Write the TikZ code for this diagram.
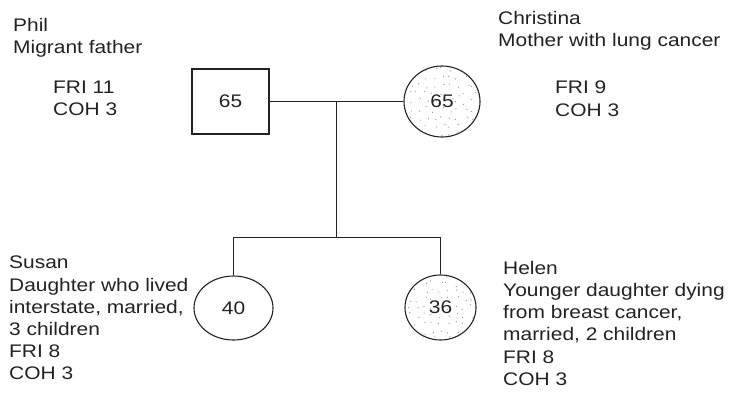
\documentclass[tikz,border=0pt]{standalone}
\usepackage{fontspec}
\setmainfont{Liberation Sans}[FakeStretch=1.15]
\usetikzlibrary{shapes.geometric,calc}
\definecolor{ink}{HTML}{222222}
\tikzset{
  member/.style={draw=ink, line width=1.1pt, text=ink, inner sep=0pt},
  male/.style={member, rectangle, minimum width=77pt, minimum height=65pt},
  female/.style={member, ellipse},
  note/.style={anchor=north west, align=left, inner sep=0pt, text=ink,
    execute at begin node={\rule{0pt}{14pt}}},
  link/.style={draw=ink, line width=1.1pt},
  stipple/.style={fill=black!45}
}
% jittered grid of small dots, clipped to an ellipse around a point
\newcommand{\stippledots}[3]{%
  \begin{scope}
    \clip (#1) ellipse ({#2} and {#3});
    \foreach \dx in {-40,-32,...,40}{
      \foreach \dy in {-40,-32,...,40}{
        \fill[stipple] ($(#1)+(\dx+rand*3,\dy+rand*3)$) circle (0.6pt);
      }
    }
  \end{scope}}
\begin{document}
\begin{tikzpicture}[x=1pt,y=-1pt,font=\fontsize{18.2}{22.2}\selectfont]
\useasboundingbox (0,0) rectangle (733,396);
\pgfmathsetseed{11}

% centres of the four members
\coordinate (philpos) at (230.5,101.5);
\coordinate (christinapos) at (442,101.5);
\coordinate (susanpos) at (233.5,308);
\coordinate (helenpos) at (440.5,307.5);

% stippled fill for the affected members
\stippledots{christinapos}{37}{34.5}
\stippledots{helenpos}{34.5}{31.5}

% parents
\node[male] (phil) at (philpos) {65};
\node[female, minimum width=76pt, minimum height=71pt] (christina) at (christinapos) {65};
% daughters
\node[female, minimum width=79pt, minimum height=64pt] (susan) at (susanpos) {40};
\node[female, minimum width=71pt, minimum height=65pt] (helen) at (helenpos) {36};

% marriage and descent lines
\coordinate (marriage) at ($(phil.east)!0.5!(christina.west)$);
\coordinate (sibship) at ($(marriage)+(0,136)$);
\draw[link] (phil.east) -- (christina.west);
\draw[link] (marriage) -- (sibship);
\draw[link] (susan.north) |- (sibship) -| (helen.north);

% annotations (anchored at the top of the first line)
\node[note] (philname) at (13,18) {Phil\\Migrant father};
\node[note] (philscore) at (53,81) {FRI 11\\COH 3};
\node[note] (chrisname) at (498,11) {Christina\\Mother with lung cancer};
\node[note] (chrisscore) at (555,81) {FRI 9\\COH 3};
\node[note] (susannote) at (9,256) {Susan\\Daughter who lived\\interstate, married,\\3 children\\FRI 8\\COH 3};
\node[note] (helennote) at (503,261) {Helen\\Younger daughter dying\\from breast cancer,\\married, 2 children\\FRI 8\\COH 3};
\end{tikzpicture}
\end{document}
